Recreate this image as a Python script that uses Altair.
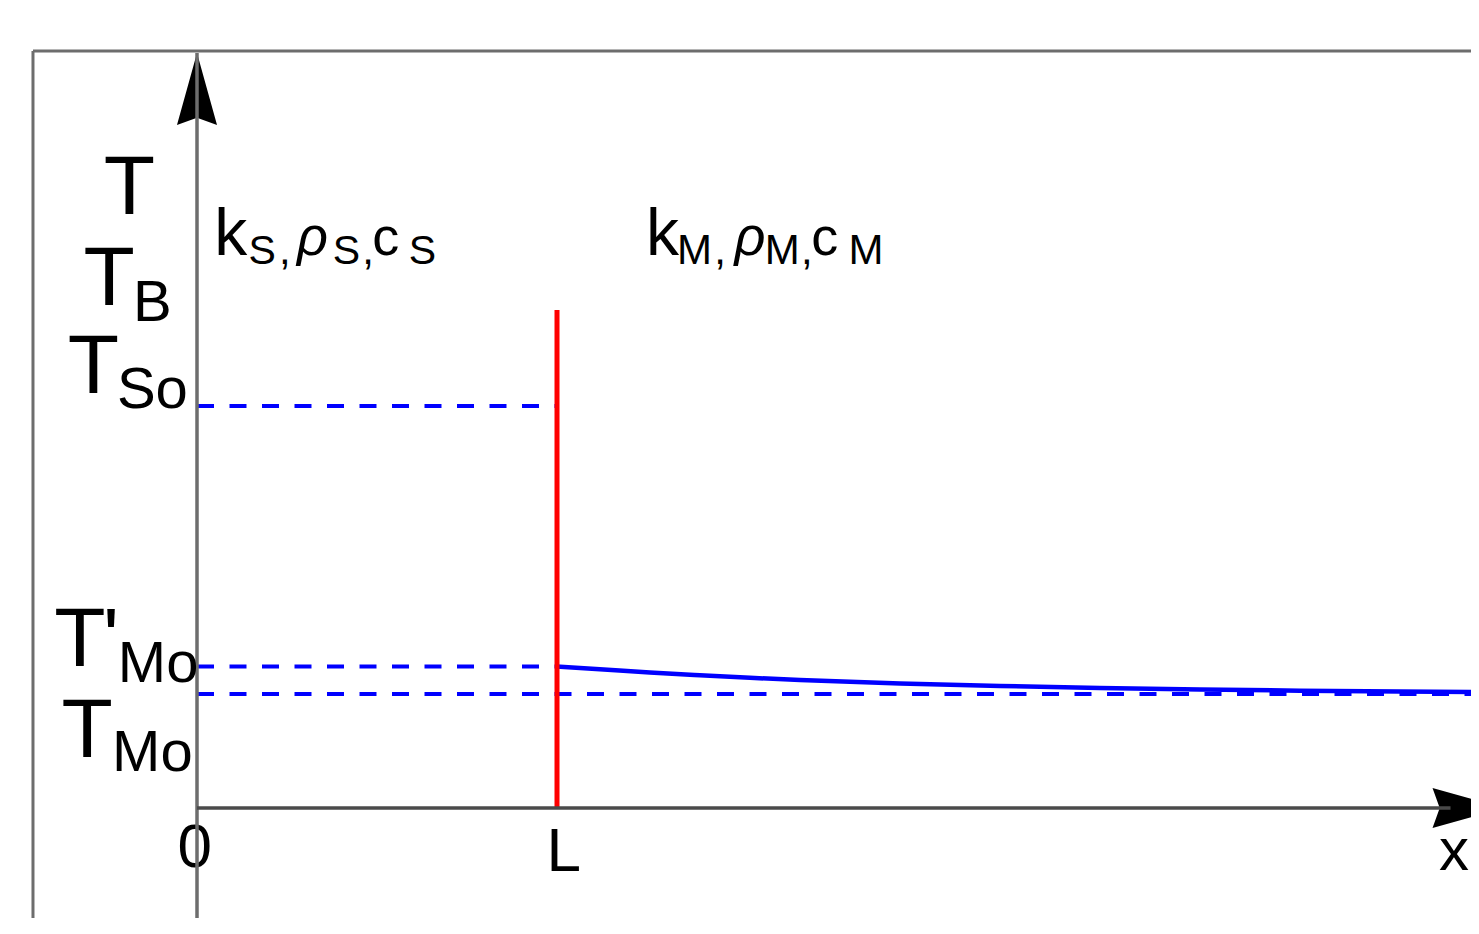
import altair as alt
import pandas as pd

# ---------------- values (x in units of L, temperature in units of T_Mo) ----------------
L_POS = 1.0          # interface position L
T_MO = 1.0           # initial melt temperature T_Mo
T_MO_PRIME = 1.241   # T'_Mo (interface temperature)
T_SO = 3.526         # T_So
INTERFACE_TOP = 4.368
X_END = 3.65

# melt-side temperature profile T(x) for x >= L
CURVE_X = [1.000, 1.119, 1.258, 1.397, 1.536, 1.675, 1.953, 2.231, 2.508, 2.786, 3.064, 3.342, 3.561]
CURVE_T = [1.241, 1.217, 1.188, 1.164, 1.142, 1.123, 1.092, 1.070, 1.053, 1.039, 1.029, 1.021, 1.016]

# text pieces (main glyphs and subscripts)
Y_LABEL_TEXT = ["T", "T", "B", "T", "So", "T", "'", "Mo", "T", "Mo"]
Y_LABEL_X = [-0.188, -0.244, -0.124, -0.288, -0.124, -0.325, -0.239, -0.108, -0.305, -0.124]
Y_LABEL_Y = [5.211, 4.408, 4.268, 3.636, 3.509, 1.246, 1.246, 1.105, 0.447, 0.325]
Y_LABEL_SIZE = [84, 84, 58, 84, 58, 84, 84, 58, 84, 58]

PROP_TEXT = ["k", "S", ",", "S", ",", "c", "S",
             "k", "M", ",", "M", ",", "c", "M"]
PROP_X = [0.094, 0.181, 0.244, 0.415, 0.475, 0.524, 0.626,
          1.293, 1.382, 1.453, 1.626, 1.694, 1.744, 1.858]
PROP_Y = [4.851, 4.768, 4.768, 4.768, 4.768, 4.851, 4.768,
          4.851, 4.768, 4.768, 4.768, 4.768, 4.851, 4.768]
PROP_SIZE = [66, 41, 42, 41, 42, 54, 41,
             66, 42, 42, 42, 42, 54, 42]
RHO_X = [0.321, 1.536]
RHO_Y = [4.851, 4.851]

TICK_TEXT = ["0", "L", "x"]
TICK_X = [-0.006, 1.019, 3.492]
TICK_Y = [-0.518, -0.553, -0.544]
TICK_SIZE = [62, 62, 60]

# ---------------- layout ----------------
W, H = 1463, 910
PX_PER_X = 360.0
PX_PER_Y = 114.0
X_DOMAIN = [-189 / PX_PER_X, (W - 189) / PX_PER_X]
Y_DOMAIN = [(800 - H) / PX_PER_Y, 800 / PX_PER_Y]
FRAME_X = -0.4556
FRAME_TOP = 6.640
YAXIS_TOP = 6.623
Y_ARROW_Y = 6.307
X_ARROW_X = 3.532

xs = alt.Scale(domain=X_DOMAIN, nice=False, zero=False)
ys = alt.Scale(domain=Y_DOMAIN, nice=False, zero=False)


def ex(f="x"):
    return alt.X(f"{f}:Q", scale=xs, axis=None)


def ey(f="y"):
    return alt.Y(f"{f}:Q", scale=ys, axis=None)


BLUE = "#0000ff"
GREY = "#6d6d6d"
FONT = "Liberation Sans"
ARROW = "M0,-1L0.556,1L0,0.8L-0.556,1Z"

# frame
frame_v = alt.Chart(pd.DataFrame({"x": [FRAME_X], "y": [Y_DOMAIN[0] - 0.5], "y2": [FRAME_TOP]})).mark_rule(
    color=GREY, strokeWidth=3, clip=True).encode(x=ex(), y=ey(), y2="y2:Q")
frame_h = alt.Chart(pd.DataFrame({"x": [FRAME_X], "x2": [X_END + 0.5], "y": [FRAME_TOP]})).mark_rule(
    color=GREY, strokeWidth=3, clip=True).encode(x=ex(), x2="x2:Q", y=ey())

# dashed reference lines
dash_df = pd.DataFrame({
    "x": [0.0, 0.0, 0.0],
    "x2": [L_POS, L_POS, X_END],
    "y": [T_SO, T_MO_PRIME, T_MO],
})
dashes = alt.Chart(dash_df).mark_rule(color=BLUE, strokeWidth=4, strokeDash=[17, 15.5], clip=True).encode(
    x=ex(), x2="x2:Q", y=ey())

# temperature profile
curve = alt.Chart(pd.DataFrame({"x": CURVE_X, "y": CURVE_T})).mark_line(
    color=BLUE, strokeWidth=4.5, interpolate="monotone", clip=True).encode(x=ex(), y=ey())

# interface
interface = alt.Chart(pd.DataFrame({"x": [L_POS], "y": [0.0], "y2": [INTERFACE_TOP]})).mark_rule(
    color="#ff0000", strokeWidth=5).encode(x=ex(), y=ey(), y2="y2:Q")

# arrow heads
y_arrow = alt.Chart(pd.DataFrame({"x": [0.0], "y": [Y_ARROW_Y]})).mark_point(
    shape=ARROW, filled=True, color="black", opacity=1, size=5184, strokeWidth=0).encode(x=ex(), y=ey())
x_arrow = alt.Chart(pd.DataFrame({"x": [X_ARROW_X], "y": [0.0]})).mark_point(
    shape=ARROW, filled=True, color="black", opacity=1, size=5184, strokeWidth=0, angle=90, clip=True).encode(
    x=ex(), y=ey())


# texts
def text_layer(xv, yv, tv, sv, style="normal"):
    df = pd.DataFrame({"x": xv, "y": yv, "t": tv, "s": sv})
    return alt.Chart(df).mark_text(
        align="center", baseline="alphabetic", font=FONT, color="black", fontStyle=style).encode(
        x=ex(), y=ey(), text="t:N", size=alt.Size("s:Q", scale=None))


y_labels = text_layer(Y_LABEL_X, Y_LABEL_Y, Y_LABEL_TEXT, Y_LABEL_SIZE)
props = text_layer(PROP_X, PROP_Y, PROP_TEXT, PROP_SIZE)
rhos = text_layer(RHO_X, RHO_Y, ["ρ", "ρ"], [54, 54], style="italic")
ticks = text_layer(TICK_X, TICK_Y, TICK_TEXT, TICK_SIZE)

# axes
y_axis = alt.Chart(pd.DataFrame({"x": [0.0], "y": [Y_DOMAIN[0] - 0.5], "y2": [YAXIS_TOP]})).mark_rule(
    color=GREY, strokeWidth=3.5, clip=True).encode(x=ex(), y=ey(), y2="y2:Q")
x_axis = alt.Chart(pd.DataFrame({"x": [0.0], "x2": [X_ARROW_X - 0.05], "y": [0.0]})).mark_rule(
    color="#4a4a4a", strokeWidth=3.5, clip=True).encode(x=ex(), x2="x2:Q", y=ey())

chart = alt.layer(
    frame_v, frame_h, dashes, curve, interface, ticks, y_arrow, x_arrow,
    y_axis, x_axis, y_labels, props, rhos
).properties(
    width=W, height=H, padding=0, autosize="none", background="white"
).configure_view(strokeWidth=0)

chart.save("out.html", embed_options={"renderer": "svg", "actions": False})
